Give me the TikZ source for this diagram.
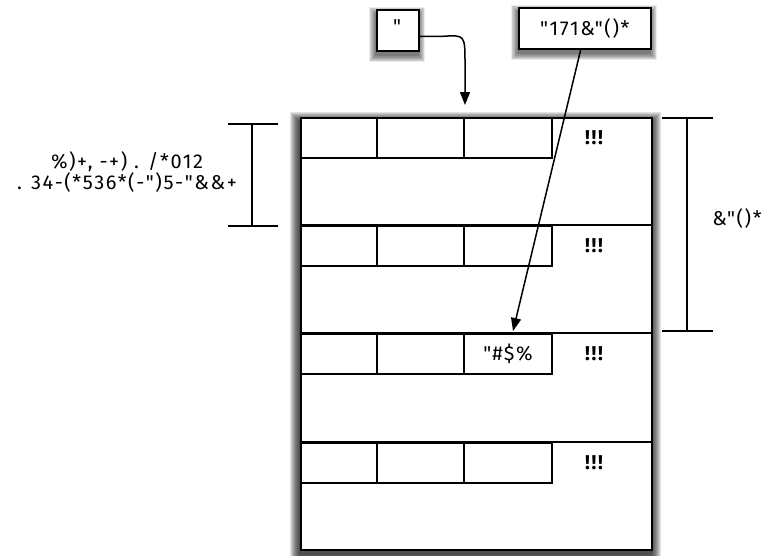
\documentclass[tikz,border=0pt]{standalone}
\usepackage{fontspec}
\setmainfont{Fira Sans}[LetterSpace=8,Ligatures=TeXOff]
\usetikzlibrary{arrows.meta}
\begin{document}
\begin{tikzpicture}[x=1pt,y=-1pt,
  line width=1.5pt,
  txt/.style={font=\fontsize{20}{20}\selectfont, inner sep=0pt},
  box/.style={draw, fill=white, inner sep=0pt, anchor=north west},
  cell/.style={draw, inner sep=0pt, anchor=north west, minimum height=40pt},
  arr/.style={-{Triangle[length=13pt,width=10pt]}, line width=1.5pt}
]
\useasboundingbox (0,0) rectangle (766,555);
% shadows (drawn first, behind the boxes)
\foreach \k in {1,...,10}{
  \fill[black, opacity=0.11] (300-\k,117-\k+5) rectangle (651+\k,549+\k+5);
  \fill[black, opacity=0.07] (376-0.7*\k,9-0.7*\k+5) rectangle (418+0.7*\k,50+0.7*\k+5);
  \fill[black, opacity=0.07] (518-0.7*\k,7-0.7*\k+5) rectangle (650+0.7*\k,48+0.7*\k+5);
}
% main box
\node[box, minimum width=351pt, minimum height=432pt] (main) at (300,117) {};
% rows
\foreach \r/\y in {1/117,2/225,3/333,4/442}{
  \node[cell, minimum width=76pt] (c\r1) at (300,\y) {};
  \node[cell, minimum width=87pt] (c\r2) at (376,\y) {};
  \node[cell, minimum width=88pt] (c\r3) at (463,\y) {};
  \node[txt, font=\fontsize{20}{20}\selectfont\bfseries] (e\r) at (594,\y+21) {!!!};
}
\draw (c21.north west) -- (c21.north west -| main.east);
\draw (c31.north west) -- (c31.north west -| main.east);
\draw (c41.north west) -- (c41.north west -| main.east);
\node[txt] (tag) at (508,354) {"\#\$\%};
% top boxes
\node[box, minimum width=42pt, minimum height=41pt] (b1) at (376,9) {};
\node[txt] (q) at (397,27) {"};
\node[box, minimum width=132pt, minimum height=41pt, font=\fontsize{20}{20}\selectfont] (b2) at (518,7) {"171\&"()*};
% arrows
\coordinate (t1) at (465,105);
\coordinate (t2) at (513,331);
\draw[arr] ([yshift=-6pt]b1.east) -- ++(24,0) .. controls (465,35) .. (465,64) -- (t1);
\draw[arr] ([xshift=-4pt]b2.south) -- (t2);
% left bracket
\coordinate (l1) at (228,124); \coordinate (l2) at (278,124);
\coordinate (l3) at (228,226); \coordinate (l4) at (278,226);
\coordinate (lm1) at (252,124); \coordinate (lm2) at (252,226);
\draw (l1) -- (l2); \draw (l3) -- (l4); \draw (lm1) -- (lm2);
\node[txt, align=center] (ltxt) at (127,172) {\%)+, -+) . /*012\\. 34-(*536*(-")5-"\&\&+};
% right bracket
\coordinate (r1) at (662,118); \coordinate (r2) at (713,118);
\coordinate (r3) at (662,331); \coordinate (r4) at (713,331);
\coordinate (rm1) at (687,118); \coordinate (rm2) at (687,331);
\draw (r1) -- (r2); \draw (r3) -- (r4); \draw (rm1) -- (rm2);
\node[txt] (rtxt) at (737,218) {\&"()*};
\end{tikzpicture}
\end{document}
